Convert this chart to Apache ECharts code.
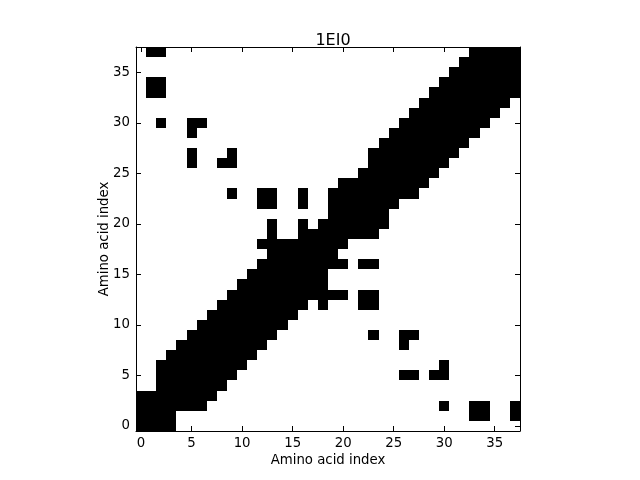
<!DOCTYPE html>
<html>
<head>
<meta charset="utf-8">
<script src="https://cdn.jsdelivr.net/npm/echarts@6/dist/echarts.min.js"></script>
<style>html,body{margin:0;padding:0;background:#fff}#c{width:640px;height:480px}</style>
</head>
<body>
<div id="c"></div>
<script>
// residue indices (categories)
const residues = Array.from({length: 38}, (_, i) => String(i));
const tickLabels = ['0', '5', '10', '15', '20', '25', '30', '35'];
const titleText = '1EI0';
const axisTitle = 'Amino acid index';
// contact map, row 0 (bottom) to row 37 (top); columns 0..37, grouped by tens
const contactRows = [
  "1111000000 0000000000 0000000000 00000000", // 0
  "1111000000 0000000000 0000000000 00011001", // 1
  "1111111000 0000000000 0000000000 10011001", // 2
  "1111111100 0000000000 0000000000 00000000", // 3
  "0011111110 0000000000 0000000000 00000000", // 4
  "0011111111 0000000000 0000001101 10000000", // 5
  "0011111111 1000000000 0000000000 10000000", // 6
  "0001111111 1100000000 0000000000 00000000", // 7
  "0000111111 1110000000 0000001000 00000000", // 8
  "0000011111 1111000000 0001001100 00000000", // 9
  "0000001111 1111100000 0000000000 00000000", // 10
  "0000000111 1111110000 0000000000 00000000", // 11
  "0000000011 1111111010 0011000000 00000000", // 12
  "0000000001 1111111111 1011000000 00000000", // 13
  "0000000000 1111111110 0000000000 00000000", // 14
  "0000000000 0111111110 0000000000 00000000", // 15
  "0000000000 0011111111 1011000000 00000000", // 16
  "0000000000 0001111111 0000000000 00000000", // 17
  "0000000000 0011111111 1000000000 00000000", // 18
  "0000000000 0001001111 1111000000 00000000", // 19
  "0000000000 0001001011 1111100000 00000000", // 20
  "0000000000 0000000001 1111100000 00000000", // 21
  "0000000000 0011001001 1111110000 00000000", // 22
  "0000000001 0011001001 1111111100 00000000", // 23
  "0000000000 0000000000 1111111110 00000000", // 24
  "0000000000 0000000000 0011111111 00000000", // 25
  "0000010011 0000000000 0001111111 10000000", // 26
  "0000010001 0000000000 0001111111 11000000", // 27
  "0000000000 0000000000 0000111111 11100000", // 28
  "0000010000 0000000000 0000011111 11110000", // 29
  "0010011000 0000000000 0000001111 11111000", // 30
  "0000000000 0000000000 0000000111 11111100", // 31
  "0000000000 0000000000 0000000011 11111110", // 32
  "0110000000 0000000000 0000000001 11111111", // 33
  "0110000000 0000000000 0000000000 11111111", // 34
  "0000000000 0000000000 0000000000 01111111", // 35
  "0000000000 0000000000 0000000000 00111111", // 36
  "0110000000 0000000000 0000000000 00011111"  // 37
];

const cells = [];
contactRows.forEach((s, r) => {
  const bits = s.replace(/ /g, '');
  for (let c = 0; c < bits.length; c++) if (bits[c] === '1') cells.push([c, r, 1]);
});

const FONT = 'DejaVu Sans';
const isTick = (i, v) => tickLabels.indexOf(residues[i]) >= 0;

function catAxis(pos, showLabel, name) {
  const a = {
    type: 'category',
    data: residues,
    position: pos,
    boundaryGap: true,
    z: 10,
    axisLine: {show: true, onZero: false, lineStyle: {color: '#000', width: 1}},
    axisTick: {show: true, inside: true, length: 5, interval: isTick, alignWithLabel: true, lineStyle: {color: '#000', width: 1}},
    axisLabel: {show: showLabel, interval: isTick, color: '#000', fontFamily: FONT, fontSize: 13.3, margin: 6},
    splitLine: {show: false}
  };
  if (name) {
    a.name = name;
    a.nameLocation = 'middle';
    a.nameMoveOverlap = false;
    a.nameTextStyle = {color: '#000', fontFamily: FONT, fontSize: 13.3};
  }
  return a;
}

const xb = catAxis('bottom', true, axisTitle); xb.nameGap = 23;
const xt = catAxis('top', false);
const yl = catAxis('left', true, axisTitle); yl.nameGap = 25;
const yr = catAxis('right', false);

function renderCell(params, api) {
  const center = api.coord([api.value(0), api.value(1)]);
  const size = api.size([1, 1]);
  const x0 = Math.round(center[0] - size[0] / 2);
  const x1 = Math.round(center[0] + size[0] / 2);
  const y0 = Math.round(center[1] - size[1] / 2);
  const y1 = Math.round(center[1] + size[1] / 2);
  return {
    type: 'rect',
    shape: {x: x0, y: y0, width: x1 - x0, height: y1 - y0},
    style: {fill: '#000'}
  };
}

const chart = echarts.init(document.getElementById('c'), null, {renderer: 'canvas'});
chart.setOption({
  animation: false,
  backgroundColor: '#fff',
  title: {text: titleText, left: 328, textAlign: 'center', top: 28,
    textStyle: {fontFamily: FONT, fontSize: 16, fontWeight: 'normal', color: '#000'}},
  grid: {left: 136, top: 47, width: 384, height: 384, containLabel: false},
  xAxis: [xb, xt],
  yAxis: [yl, yr],
  series: [{
    type: 'custom',
    xAxisIndex: 0, yAxisIndex: 0,
    data: cells,
    renderItem: renderCell,
    encode: {x: 0, y: 1},
    silent: true
  }]
});
</script>
</body>
</html>
